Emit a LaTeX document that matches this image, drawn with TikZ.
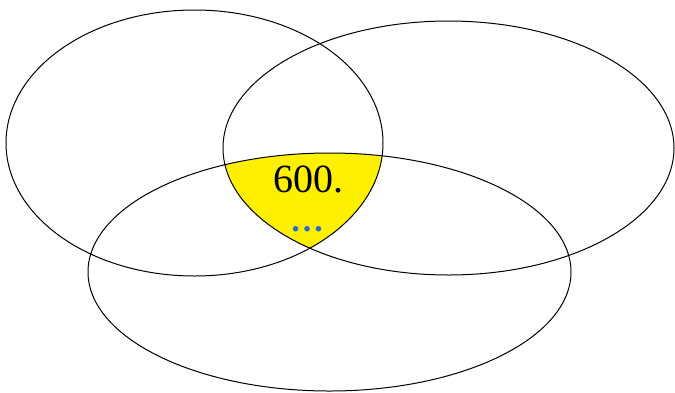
\documentclass[tikz,border=0pt]{standalone}
\usepackage{fontspec}
\setmainfont{Liberation Serif}
\definecolor{venyellow}{RGB}{255,240,0}
\definecolor{dotblue}{RGB}{40,110,200}
\tikzset{
  venline/.style={draw=black, line width=1pt},
  bigtext/.style={font=\fontsize{40}{42}\selectfont, inner sep=0pt},
  dottext/.style={font=\fontsize{34}{36}\selectfont\bfseries, inner sep=0pt, text=dotblue}
}
\begin{document}
\begin{tikzpicture}[x=1pt,y=-1pt]
\useasboundingbox (0,0) rectangle (675,392);
\begin{scope}
  \clip (194.5,143) ellipse [x radius=188.5, y radius=133];
  \clip (448.5,148) ellipse [x radius=225.5, y radius=127];
  \fill[venyellow] (329.5,272) ellipse [x radius=241.5, y radius=119];
\end{scope}
\draw[venline] (194.5,143) ellipse [x radius=188.5, y radius=133];
\draw[venline] (448.5,148) ellipse [x radius=225.5, y radius=127];
\draw[venline] (329.5,272) ellipse [x radius=241.5, y radius=119];
\node[bigtext, anchor=base] (num) at (308,192) {600.};
\node[dottext, anchor=base] (dots) at (307,231) {…};
\end{tikzpicture}
\end{document}
